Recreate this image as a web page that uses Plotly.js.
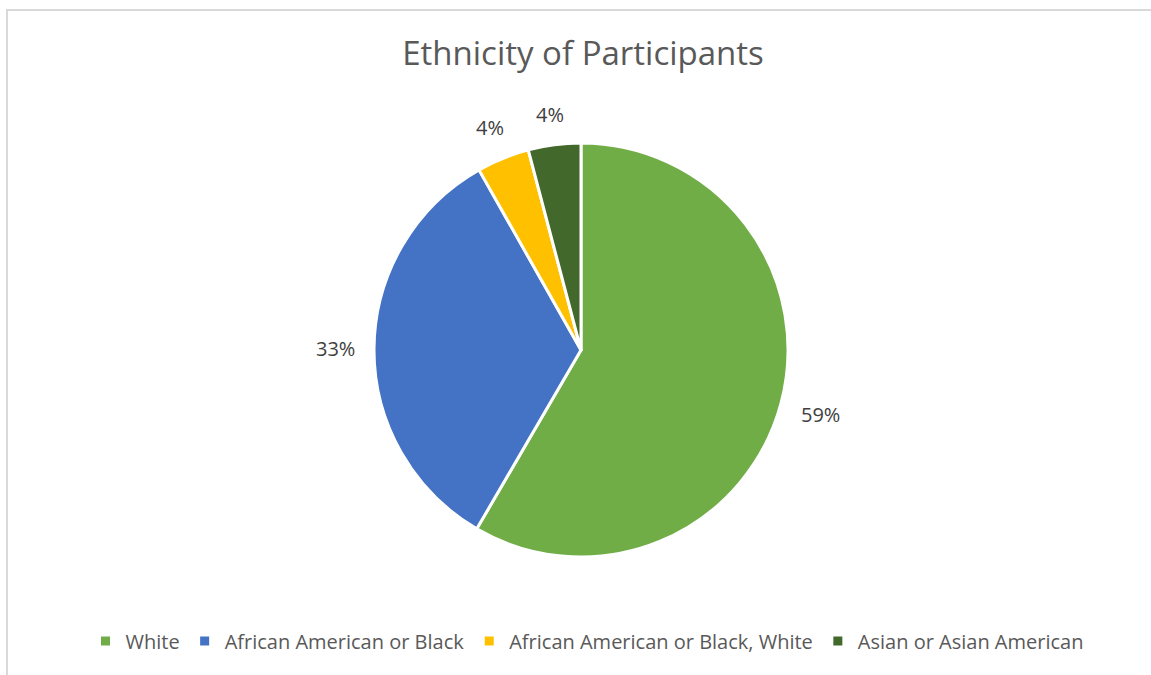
<!DOCTYPE html>
<html>
<head>
<meta charset="utf-8">
<script src="https://cdn.plot.ly/plotly-3.0.1.min.js"></script>
<style>
html,body{margin:0;padding:0;background:#fff;}
#frame{position:absolute;left:6px;top:9px;width:1145px;height:666px;border-left:2px solid #d9d9d9;border-top:2px solid #d9d9d9;box-sizing:border-box;}
#chart{position:absolute;left:0;top:0;width:1151px;height:675px;}
</style>
</head>
<body>
<div id="frame"></div>
<div id="chart"></div>
<script>
// Data
const categories = ["White", "African American or Black", "African American or Black, White", "Asian or Asian American"];
const shares = [58.4, 33.4, 4.1, 4.1];          // slice sizes as drawn
const dataLabels = ["59%", "33%", "4%", "4%"];   // labels as printed
const colors = ["#70AD47", "#4472C4", "#FFC000", "#43682B"];
const titleText = "Ethnicity of Participants";

// Layout constants
const W = 1151, H = 675;
const cx = 581, cy = 350, R = 207;
const labelFont = {family: "Open Sans, sans-serif", size: 20, color: "#404040"};
const gap = 19;

const trace = {
  type: "pie",
  labels: categories,
  values: shares,
  sort: false,
  direction: "clockwise",
  rotation: 0,
  marker: {colors: colors, line: {color: "#ffffff", width: 3}},
  textinfo: "none",
  hoverinfo: "label+percent",
  domain: {
    x: [(cx - R) / W, (cx + R) / W],
    y: [(H - cy - R) / H, (H - cy + R) / H]
  }
};

// Data labels placed just outside each slice's outer edge, along its mid-angle
const ctx = document.createElement("canvas").getContext("2d");
ctx.font = labelFont.size + "px " + labelFont.family;
const total = shares.reduce((a, b) => a + b, 0);
let cum = 0;
const annotations = shares.map((v, i) => {
  const th = (cum + v / 2) / total * 2 * Math.PI;
  cum += v;
  const s = Math.sin(th), c = Math.cos(th);
  const w = ctx.measureText(dataLabels[i]).width, h = labelFont.size;
  const ext = Math.abs(s) * w / 2 + Math.abs(c) * h / 2;
  const r = R + gap + ext;
  const px = cx + r * s, py = cy - r * c;
  return {
    text: dataLabels[i], showarrow: false,
    xref: "paper", yref: "paper",
    x: px / W, y: 1 - py / H,
    xanchor: "center", yanchor: "middle",
    font: labelFont
  };
});

const layout = {
  width: W, height: H,
  margin: {l: 0, r: 0, t: 0, b: 0},
  paper_bgcolor: "rgba(0,0,0,0)",
  plot_bgcolor: "rgba(0,0,0,0)",
  title: {
    text: titleText,
    font: {family: "Open Sans, sans-serif", size: 33, color: "#595959"},
    x: 583 / W, xanchor: "center",
    y: 1 - 53 / H, yanchor: "middle", yref: "paper"
  },
  showlegend: true,
  legend: {
    orientation: "h",
    x: 587 / W, xanchor: "center",
    y: (H - 641) / H, yanchor: "middle",
    font: {family: "Open Sans, sans-serif", size: 20, color: "#595959"},
    itemwidth: 30,
    traceorder: "normal"
  },
  annotations: annotations,
  font: {family: "Open Sans, sans-serif"}
};

Plotly.newPlot("chart", [trace], layout, {displayModeBar: false, staticPlot: true});
</script>
</body>
</html>
